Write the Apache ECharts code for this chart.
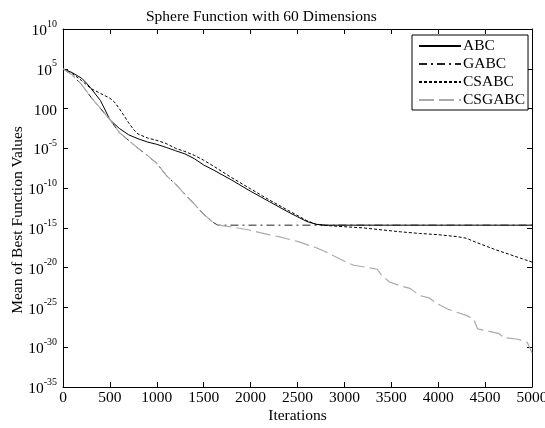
<!DOCTYPE html>
<html>
<head>
<meta charset="utf-8">
<script src="https://cdn.jsdelivr.net/npm/echarts@6/dist/echarts.min.js"></script>
<style>
  html, body { margin: 0; padding: 0; background: #fff; }
  #charts { width: 545px; height: 428px; }
</style>
</head>
<body>
<div id="charts"></div>
<script>
// iterations and mean best values
var abcX = [0, 100, 200, 250, 300, 400, 500, 600, 700, 800, 900, 1000, 1100, 1200, 1300, 1400, 1500, 1600, 1800, 2000, 2200, 2400, 2500, 2600, 2700, 2800, 5000];
var abcY = [1e5, 3.2e4, 6.3e3, 1.6e3, 3.2e2, 1e1, 4e-2, 3.2e-3, 5e-4, 1.6e-4, 6.3e-5, 3.2e-5, 1.3e-5, 5e-6, 2e-6, 5e-7, 8e-8, 2e-8, 1e-9, 4e-11, 2e-12, 1e-13, 2.5e-14, 6.3e-15, 2.8e-15, 2.2e-15, 2.2e-15];

var gabcX = [0, 100, 200, 300, 400, 500, 600, 700, 800, 900, 1000, 1100, 1200, 1300, 1400, 1500, 1600, 1650, 5000];
var gabcY = [1e5, 1.6e4, 1e3, 2.5e1, 1, 4e-2, 1e-3, 1e-4, 1e-5, 1.3e-6, 1.3e-7, 4e-9, 3.2e-10, 1.6e-11, 1e-12, 5e-14, 5e-15, 2.2e-15, 2.2e-15];

var csabcX = [0, 100, 200, 250, 300, 400, 500, 550, 600, 650, 700, 750, 800, 900, 1000, 1100, 1200, 1300, 1400, 1500, 1600, 1800, 2000, 2200, 2400, 2600, 2700, 2800, 3000, 3200, 3400, 3600, 3800, 4000, 4200, 4300, 4400, 4600, 4800, 5000];
var csabcY = [1e5, 2.5e4, 3.2e3, 1e3, 3.2e2, 8e1, 2e1, 6.3, 1, 1.3e-1, 1.6e-2, 2.5e-3, 6.3e-4, 2e-4, 1e-4, 4e-5, 1e-5, 4e-6, 1.3e-6, 3.2e-7, 6.3e-8, 2e-9, 8e-11, 3.2e-12, 1.6e-13, 8e-15, 2.8e-15, 2e-15, 1.4e-15, 1e-15, 5.6e-16, 3.2e-16, 2e-16, 1.4e-16, 8e-17, 5e-17, 1.6e-17, 2e-18, 3.2e-19, 5e-20];

var csgabcX = [0, 100, 200, 300, 400, 500, 600, 700, 800, 900, 1000, 1100, 1200, 1300, 1400, 1500, 1600, 1650, 1800, 2000, 2100, 2200, 2300, 2400, 2500, 2600, 2700, 2800, 2900, 3000, 3100, 3200, 3350, 3400, 3480, 3600, 3700, 3800, 3900, 4000, 4100, 4200, 4300, 4380, 4420, 4500, 4650, 4700, 4850, 4950, 5000];
var csgabcY = [1e5, 1.6e4, 1e3, 2.5e1, 1, 4e-2, 1e-3, 1e-4, 1e-5, 1.3e-6, 1.3e-7, 4e-9, 3.2e-10, 1.6e-11, 1e-12, 5e-14, 5e-15, 2.2e-15, 1.3e-15, 5e-16, 2.5e-16, 1.3e-16, 8e-17, 4e-17, 2e-17, 8e-18, 3.2e-18, 1e-18, 2.5e-19, 6.3e-20, 2e-20, 1.3e-20, 6.3e-21, 1e-21, 1.6e-22, 5e-23, 2.5e-23, 3.2e-24, 1.6e-24, 2.5e-25, 6.3e-26, 2.5e-26, 1e-26, 3.2e-27, 2e-28, 1.3e-28, 5e-29, 1.6e-29, 1e-29, 4e-30, 2e-31];

var names = ['ABC', 'GABC', 'CSABC', 'CSGABC'];
var xTicks = { min: 0, max: 5000, step: 500 };
// decade exponents of the y axis (10^-35 .. 10^10, a tick every 5 decades)
var yDecades = { min: -35, max: 10, step: 5 };

var font = 'Liberation Serif, Times New Roman, serif';
var fs = 15.5;

/*
 ** pair iterations with log10 of the value (y axis is drawn in decades)
 */
function pairs(xs, ys) {
    var arr = [];
    xs.forEach((v, i) => {
        arr.push([v, Math.log10(ys[i])]);
    })
    return arr;
}

function yLabel(e) {
    e = Math.round(e);
    if (e === 0) return '{n|100}';
    return '{n|10}{s|' + e + '}';
}

var myChart = echarts.init(document.getElementById('charts'));

var tick = { inside: true, length: 5, lineStyle: { color: '#000' } };
var line = { show: true, onZero: false, lineStyle: { color: '#000', width: 1 } };

var option = {
    animation: false,
    backgroundColor: '#fff',
    title: {
        text: 'Sphere Function with 60 Dimensions',
        left: 141,
        top: 4,
        textStyle: { fontFamily: font, fontSize: fs, fontWeight: 'normal', color: '#000' }
    },
    grid: { left: 63, right: 13, top: 29, bottom: 41, containLabel: false, outerBoundsMode: 'none' },
    legend: {
        orient: 'vertical',
        left: 412,
        top: 35,
        data: names,
        itemWidth: 42,
        itemHeight: 10,
        itemGap: 2,
        padding: [3, 3, 2, 6],
        backgroundColor: '#fff',
        borderColor: '#000',
        borderWidth: 1,
        borderRadius: 0,
        itemStyle: { opacity: 0 },
        textStyle: { fontFamily: font, fontSize: fs, lineHeight: 14, color: '#000', padding: [0, 0, 0, -3] }
    },
    xAxis: [{
        type: 'value',
        min: xTicks.min,
        max: xTicks.max,
        interval: xTicks.step,
        name: 'Iterations',
        nameLocation: 'middle',
        nameGap: 21,
        nameMoveOverlap: false,
        nameTextStyle: { fontFamily: font, fontSize: fs, color: '#000' },
        axisLine: line,
        axisTick: tick,
        axisLabel: { fontFamily: font, fontSize: fs, color: '#000', margin: 3, formatter: v => String(v) },
        splitLine: { show: false }
    }, {
        type: 'value',
        position: 'top',
        min: xTicks.min,
        max: xTicks.max,
        interval: xTicks.step,
        axisLine: line,
        axisTick: tick,
        axisLabel: { show: false },
        splitLine: { show: false }
    }],
    yAxis: [{
        type: 'value',
        min: yDecades.min,
        max: yDecades.max,
        interval: yDecades.step,
        name: 'Mean of Best Function Values',
        nameLocation: 'middle',
        nameGap: 37,
        nameMoveOverlap: false,
        nameTextStyle: { fontFamily: font, fontSize: fs, color: '#000', padding: [0, 24, 0, 0] },
        axisLine: line,
        axisTick: tick,
        axisLabel: {
            formatter: yLabel,
            margin: 6,
            rich: {
                n: { fontFamily: font, fontSize: fs, color: '#000', verticalAlign: 'bottom', lineHeight: 20 },
                s: { fontFamily: font, fontSize: 10, color: '#000', verticalAlign: 'top', lineHeight: 20 }
            }
        },
        splitLine: { show: false }
    }, {
        type: 'value',
        position: 'right',
        min: yDecades.min,
        max: yDecades.max,
        interval: yDecades.step,
        axisLine: line,
        axisTick: tick,
        axisLabel: { show: false },
        splitLine: { show: false }
    }],
    series: [{
        name: 'ABC', type: 'line', symbol: 'none', showSymbol: false,
        data: pairs(abcX, abcY),
        lineStyle: { color: '#000', width: 1, type: 'solid' },
        itemStyle: { color: '#000' }
    }, {
        name: 'GABC', type: 'line', symbol: 'none', showSymbol: false,
        data: pairs(gabcX, gabcY),
        lineStyle: { color: '#222', width: 1, type: [8, 4, 2, 4] },
        itemStyle: { color: '#222' }
    }, {
        name: 'CSABC', type: 'line', symbol: 'none', showSymbol: false,
        data: pairs(csabcX, csabcY),
        lineStyle: { color: '#000', width: 1, type: [3, 2] },
        itemStyle: { color: '#000' }
    }, {
        name: 'CSGABC', type: 'line', symbol: 'none', showSymbol: false,
        data: pairs(csgabcX, csgabcY),
        lineStyle: { color: '#aaa', width: 1.2, type: [15, 5] },
        itemStyle: { color: '#aaa' }
    }]
};

myChart.setOption(option);
</script>
</body>
</html>
